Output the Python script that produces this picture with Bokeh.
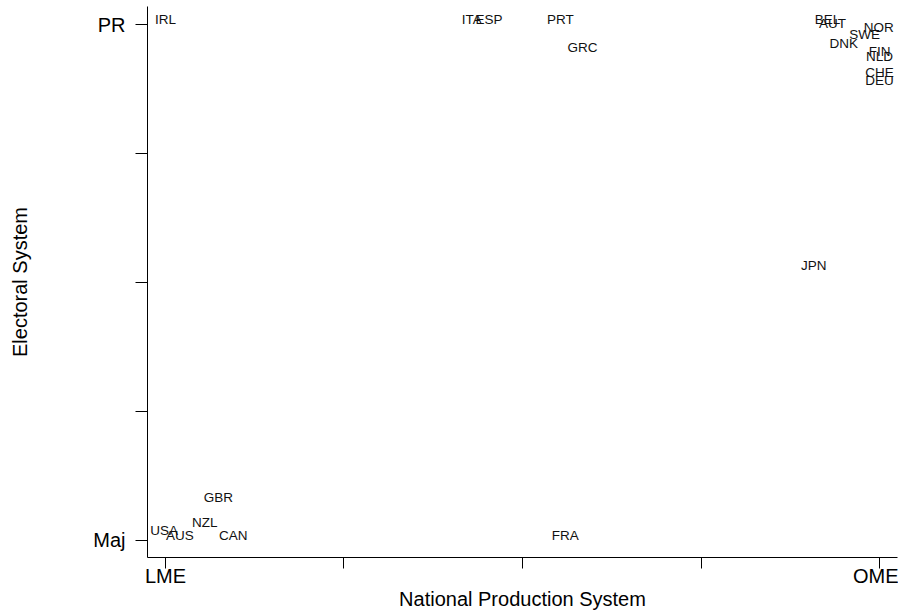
from bokeh.plotting import figure
from bokeh.models import Range1d, ColumnDataSource, FixedTicker
from bokeh.core.properties import value
from bokeh.embed import file_html
from bokeh.resources import INLINE

# Data: National Production System (0 = LME, 1 = OME) vs Electoral System (0 = Maj, 1 = PR)
countries = ["IRL", "ITA", "ESP", "PRT", "GRC", "BEL", "AUT", "NOR", "SWE", "DNK",
             "FIN", "NLD", "CHE", "DEU", "JPN", "GBR", "NZL", "USA", "AUS", "CAN", "FRA"]
production = [0.0, 0.429, 0.453, 0.553, 0.584, 0.927, 0.934, 0.999, 0.979, 0.95,
              1.0, 1.0, 1.0, 1.0, 0.908, 0.074, 0.055, -0.002, 0.02, 0.095, 0.56]
electoral = [1.0, 1.0, 1.0, 1.0, 0.946, 1.0, 0.992, 0.985, 0.971, 0.955,
             0.938, 0.928, 0.897, 0.882, 0.523, 0.073, 0.025, 0.009, 0.0, 0.0, 0.0]

x_ticks = [0, 0.25, 0.5, 0.75, 1]
x_tick_labels = ["LME", "", "", "", "OME"]
y_ticks = [0, 0.25, 0.5, 0.75, 1]
y_tick_labels = ["Maj", "", "", "", "PR"]

FONT = "Liberation Sans"

src = ColumnDataSource(dict(x=production, y=electoral, label=countries))

p = figure(width=898, height=612, output_backend="svg", toolbar_location=None,
           x_range=Range1d(-0.0252, 1.0252), y_range=Range1d(-0.033, 1.0355),
           min_border_left=147, min_border_right=1, min_border_top=6, min_border_bottom=55)
p.outline_line_color = None
p.xgrid.visible = False
p.ygrid.visible = False
p.background_fill_color = "white"
p.border_fill_color = "white"

p.text(x="x", y="y", text="label", source=src, text_font=value(FONT),
       text_font_size="13.5px", text_color="#111111", text_align="center",
       text_baseline="middle", y_offset=-5)

xa = p.xaxis[0]
xa.ticker = FixedTicker(ticks=x_ticks)
xa.major_label_overrides = {t: l for t, l in zip(x_ticks, x_tick_labels)}
xa.minor_tick_line_color = None
xa.major_tick_in = 0
xa.major_tick_out = 11
xa.axis_line_color = "black"
xa.major_tick_line_color = "black"
xa.major_label_text_font = FONT
xa.major_label_text_font_size = "20px"
xa.major_label_text_color = "black"
xa.major_label_standoff = -4
xa.axis_label = "National Production System"
xa.axis_label_text_font = FONT
xa.axis_label_text_font_size = "20px"
xa.axis_label_text_font_style = "normal"
xa.axis_label_text_color = "black"
xa.axis_label_standoff = -2

ya = p.yaxis[0]
ya.ticker = FixedTicker(ticks=y_ticks)
ya.major_label_overrides = {t: l for t, l in zip(y_ticks, y_tick_labels)}
ya.minor_tick_line_color = None
ya.major_tick_in = 0
ya.major_tick_out = 12
ya.axis_line_color = "black"
ya.major_tick_line_color = "black"
ya.major_label_orientation = "horizontal"
ya.major_label_text_font = FONT
ya.major_label_text_font_size = "20px"
ya.major_label_text_color = "black"
ya.major_label_standoff = 10
ya.axis_label = "Electoral System"
ya.axis_label_text_font = FONT
ya.axis_label_text_font_size = "20px"
ya.axis_label_text_font_style = "normal"
ya.axis_label_text_color = "black"
ya.axis_label_standoff = 59

open("out.html", "w").write(file_html(p, INLINE))
